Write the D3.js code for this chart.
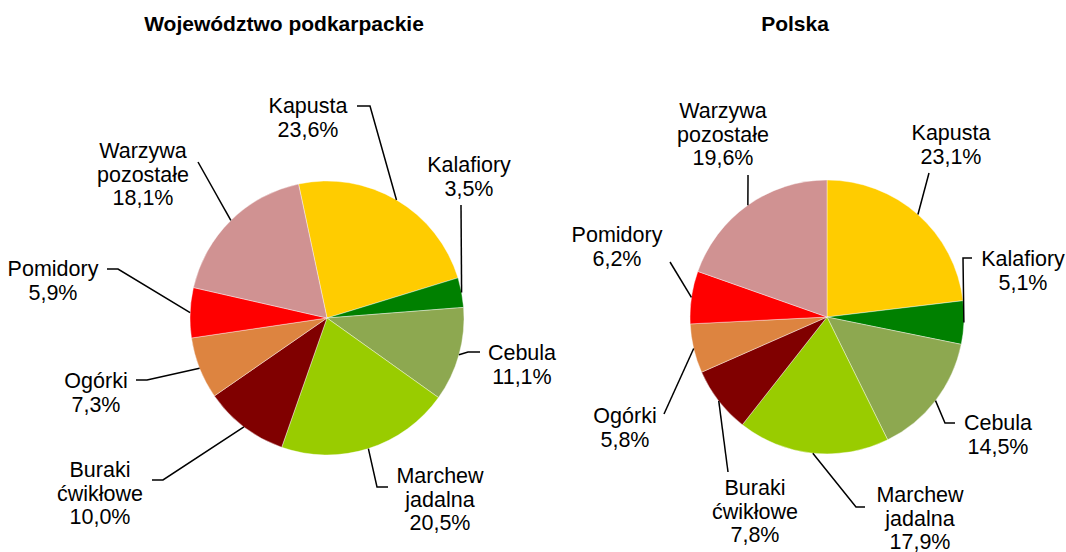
<!DOCTYPE html>
<html lang="pl">
<head>
<meta charset="utf-8">
<title>Struktura zbiorów warzyw</title>
<script src="https://cdn.jsdelivr.net/npm/d3@7"></script>
<style>
  body { margin: 0; background: #fff; }
  text { font-family: "Liberation Sans", Arial, sans-serif; fill: #000; }
</style>
</head>
<body>
<script>

var width = 1066;
var height = 552;

// dane
var categories = ["Kapusta", "Kalafiory", "Cebula", "Marchew jadalna", "Buraki ćwikłowe", "Ogórki", "Pomidory", "Warzywa pozostałe"];
var podkarpackie = [23.6, 3.5, 11.1, 20.5, 10.0, 7.3, 5.9, 18.1];
var polska = [23.1, 5.1, 14.5, 17.9, 7.8, 5.8, 6.2, 19.6];
var titles = ["Województwo podkarpackie", "Polska"];

var colors = ["#ffcc00", "#008000", "#8da850", "#99cc00", "#800000", "#dd8440", "#ff0000", "#d09292"];

// label lines (name split over lines)
var labelLines = [["Kapusta"], ["Kalafiory"], ["Cebula"], ["Marchew", "jadalna"], ["Buraki", "ćwikłowe"], ["Ogórki"], ["Pomidory"], ["Warzywa", "pozostałe"]];

// layout: text centre x, first baseline y, leader points up to the pie edge
var leftLayout = [
  {x: 308, y: 113, pts: [[357, 106], [370, 106]]},
  {x: 469, y: 172, pts: [[461, 205]]},
  {x: 522, y: 360, pts: [[480, 352], [468, 352]]},
  {x: 440, y: 483, pts: [[388, 487], [377, 487]]},
  {x: 100, y: 477, pts: [[152, 480], [163, 480]]},
  {x: 96, y: 388, pts: [[136, 380], [147, 380]]},
  {x: 53, y: 276, pts: [[107, 269], [118, 269]]},
  {x: 143, y: 158, pts: [[198, 162]]}
];
var rightLayout = [
  {x: 951, y: 140, pts: [[929, 173]]},
  {x: 1023, y: 266, pts: [[972, 258], [963, 258]]},
  {x: 998, y: 430, pts: [[955, 423], [945, 423]]},
  {x: 920, y: 502, pts: [[865, 507], [856, 507]]},
  {x: 755, y: 495, pts: [[728, 472]]},
  {x: 625, y: 423, pts: [[664, 414]]},
  {x: 617, y: 242, pts: [[670, 262]]},
  {x: 723, y: 118, pts: [[748, 175], [748, 180]]}
];

var svg = d3.select("body").append("svg")
            .attr("width", width)
            .attr("height", height);

var radius = 137;
var lineH = 23.5;

function fmt(v) {
  return v.toFixed(1).replace(".", ",") + "%";
}

function drawPie(values, cx, cy, startDeg, layout, title, titleX) {
  var start = startDeg * Math.PI / 180;
  var pie = d3.pie().sort(null)
              .startAngle(start)
              .endAngle(start + 2 * Math.PI);
  var arcs = pie(values);
  var arc = d3.arc().innerRadius(0).outerRadius(radius);

  var g = svg.append("g").attr("transform", "translate(" + cx + "," + cy + ")");

  g.selectAll("path")
   .data(arcs)
   .enter()
   .append("path")
   .attr("d", arc)
   .attr("fill", function(d, i) { return colors[i]; })
   .attr("stroke", "#ffffff")
   .attr("stroke-width", 0.4);

  // leader lines
  svg.selectAll(null)
     .data(arcs)
     .enter()
     .append("polyline")
     .attr("points", function(d, i) {
       var a = (d.startAngle + d.endAngle) / 2;
       var end = [cx + radius * Math.sin(a), cy - radius * Math.cos(a)];
       return layout[i].pts.concat([end]).map(function(p) { return p.join(","); }).join(" ");
     })
     .attr("fill", "none")
     .attr("stroke", "#000")
     .attr("stroke-width", 1.5);

  // labels
  var labels = svg.selectAll(null)
     .data(arcs)
     .enter()
     .append("text")
     .attr("text-anchor", "middle")
     .attr("font-size", "21.5px");

  labels.each(function(d, i) {
    var lines = labelLines[i].concat([fmt(d.data)]);
    var t = d3.select(this);
    lines.forEach(function(s, k) {
      t.append("tspan")
       .attr("x", layout[i].x)
       .attr("y", layout[i].y + k * lineH)
       .text(s);
    });
  });

  svg.append("text")
     .attr("x", titleX)
     .attr("y", 31)
     .attr("text-anchor", "middle")
     .attr("font-size", "21px")
     .attr("font-weight", "bold")
     .text(title);
}

drawPie(podkarpackie, 327, 318, -12, leftLayout, titles[0], 284);
drawPie(polska, 827, 317, 0, rightLayout, titles[1], 795);

</script>
</body>
</html>
